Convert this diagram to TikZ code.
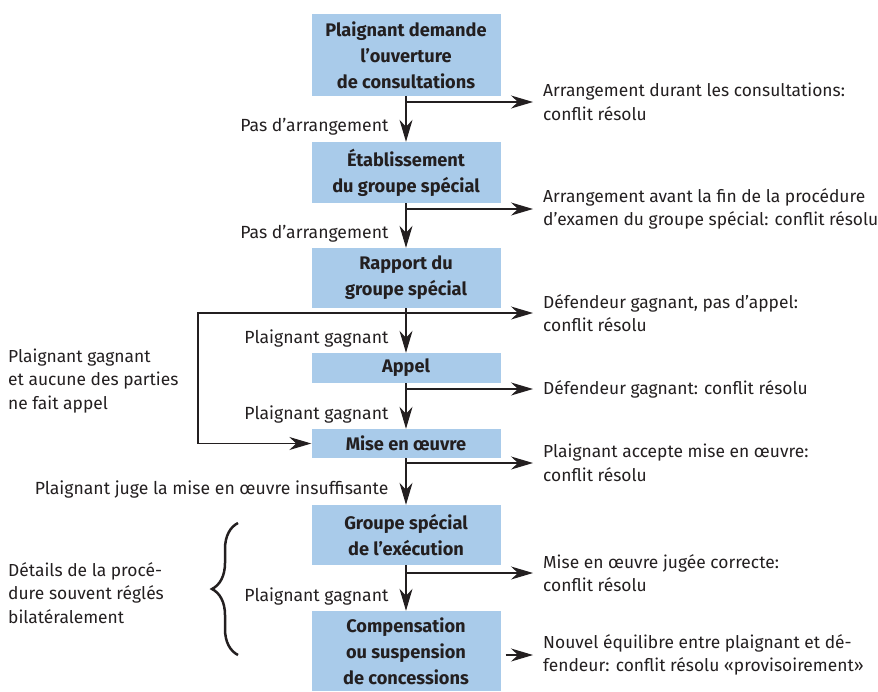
\documentclass[tikz,border=0pt]{standalone}
\usepackage{fontspec}
\setmainfont{Fira Sans}
\usetikzlibrary{positioning,arrows.meta,decorations.pathreplacing}
\definecolor{boxblue}{HTML}{A9CBEA}
\definecolor{ink}{HTML}{231F20}
\begin{document}
\begin{tikzpicture}[x=1pt,y=-1pt,
    stage/.style={fill=boxblue,minimum width=189pt,inner sep=0pt,align=center,
        font=\fontsize{18.2}{26}\selectfont\bfseries,text=ink},
    note/.style={inner sep=0pt,align=left,font=\fontsize{17.4}{23.5}\selectfont,text=ink},
    arr/.style={draw=ink,line width=1.2pt,-{Stealth[length=22pt,width=13pt,inset=7pt]}},
    cond/.style={inner sep=0pt,font=\fontsize{17.6}{23.5}\selectfont,text=ink,left=17pt,pos=0.68}]
        \useasboundingbox (0,0) rectangle (878,691);
        %% stages
        \node[stage,minimum height=82pt] (consult) at (406,55) {Plaignant demande\\l’ouverture\\de consultations};
        \node[stage,minimum height=61pt] (groupe) at (406,172.5) {Établissement\\du groupe spécial};
        \node[stage,minimum height=60pt] (rapport) at (406,278) {Rapport du\\groupe spécial};
        \node[stage,minimum height=30pt] (appel) at (406,368) {Appel};
        \node[stage,minimum height=29pt] (oeuvre) at (406,443.5) {Mise en œuvre};
        \node[stage,minimum height=60pt] (execution) at (406,535) {Groupe spécial\\de l’exécution};
        \node[stage,minimum height=80pt] (compens) at (406,651) {Compensation\\ou suspension\\de concessions};
        %% main line
        \draw[arr] (consult) -- node[cond] {Pas d’arrangement} (groupe);
        \draw[arr] (groupe) -- node[cond] {Pas d’arrangement} (rapport);
        \draw[arr] (rapport) -- node[cond] {Plaignant gagnant} (appel);
        \draw[arr] (appel) -- node[cond] {Plaignant gagnant} (oeuvre);
        \draw[arr] (oeuvre) -- node[cond] {Plaignant juge la mise en œuvre insuffisante} (execution);
        \draw[arr] (execution) -- node[cond] {Plaignant gagnant} (compens);
        %% exits on the right
        \coordinate (out1) at (533,102);
        \coordinate (out2) at (533,209);
        \coordinate (out3) at (533,313);
        \coordinate (out4) at (533,389);
        \coordinate (out5) at (533,463);
        \coordinate (out6) at (533,573);
        \coordinate (out7) at (533,655);
        \coordinate (loop) at (198,313);
        \draw[arr] (consult.south |- out1) -- (out1);
        \draw[arr] (groupe.south |- out2) -- (out2);
        \draw[arr] (rapport.south |- out3) -- (out3);
        \draw[arr] (appel.south |- out4) -- (out4);
        \draw[arr] (oeuvre.south |- out5) -- (out5);
        \draw[arr] (execution.south |- out6) -- (out6);
        \draw[arr] ([xshift=5pt]compens.east |- out7) -- (out7);
        \draw[arr] (rapport.south |- loop) -- (loop) |- (oeuvre.west);
        \node[note,anchor=west,right=10pt of out1] (res1) {Arrangement durant les consultations:\\conflit résolu};
        \node[note,anchor=west,right=10pt of out2] (res2) {Arrangement avant la fin de la procédure\\d’examen du groupe spécial: conflit résolu};
        \node[note,anchor=west,right=10pt of out3] (res3) {Défendeur gagnant, pas d’appel:\\conflit résolu};
        \node[note,anchor=west,right=10pt of out4] (res4) {Défendeur gagnant: conflit résolu};
        \node[note,anchor=west,right=10pt of out5] (res5) {Plaignant accepte mise en œuvre:\\conflit résolu};
        \node[note,anchor=west,right=10pt of out6] (res6) {Mise en œuvre jugée correcte:\\conflit résolu};
        \node[note,anchor=west,right=10pt of out7] (res7) {Nouvel équilibre entre plaignant et dé-\\fendeur: conflit résolu «provisoirement»};
        %% left side
        \node[note,anchor=west] (noappeal) at (8,381) {Plaignant gagnant\\et aucune des parties\\ne fait appel};
        \coordinate (braceb) at (238,655);
        \coordinate (bracet) at (238,523);
        \draw[ink,line width=2.5pt,decorate,decoration={brace,amplitude=26pt}] (braceb) -- (bracet);
        \node[note,anchor=west] (details) at (8,593) {Détails de la procé-\\dure souvent réglés\\bilatéralement};
    \end{tikzpicture}
\end{document}
